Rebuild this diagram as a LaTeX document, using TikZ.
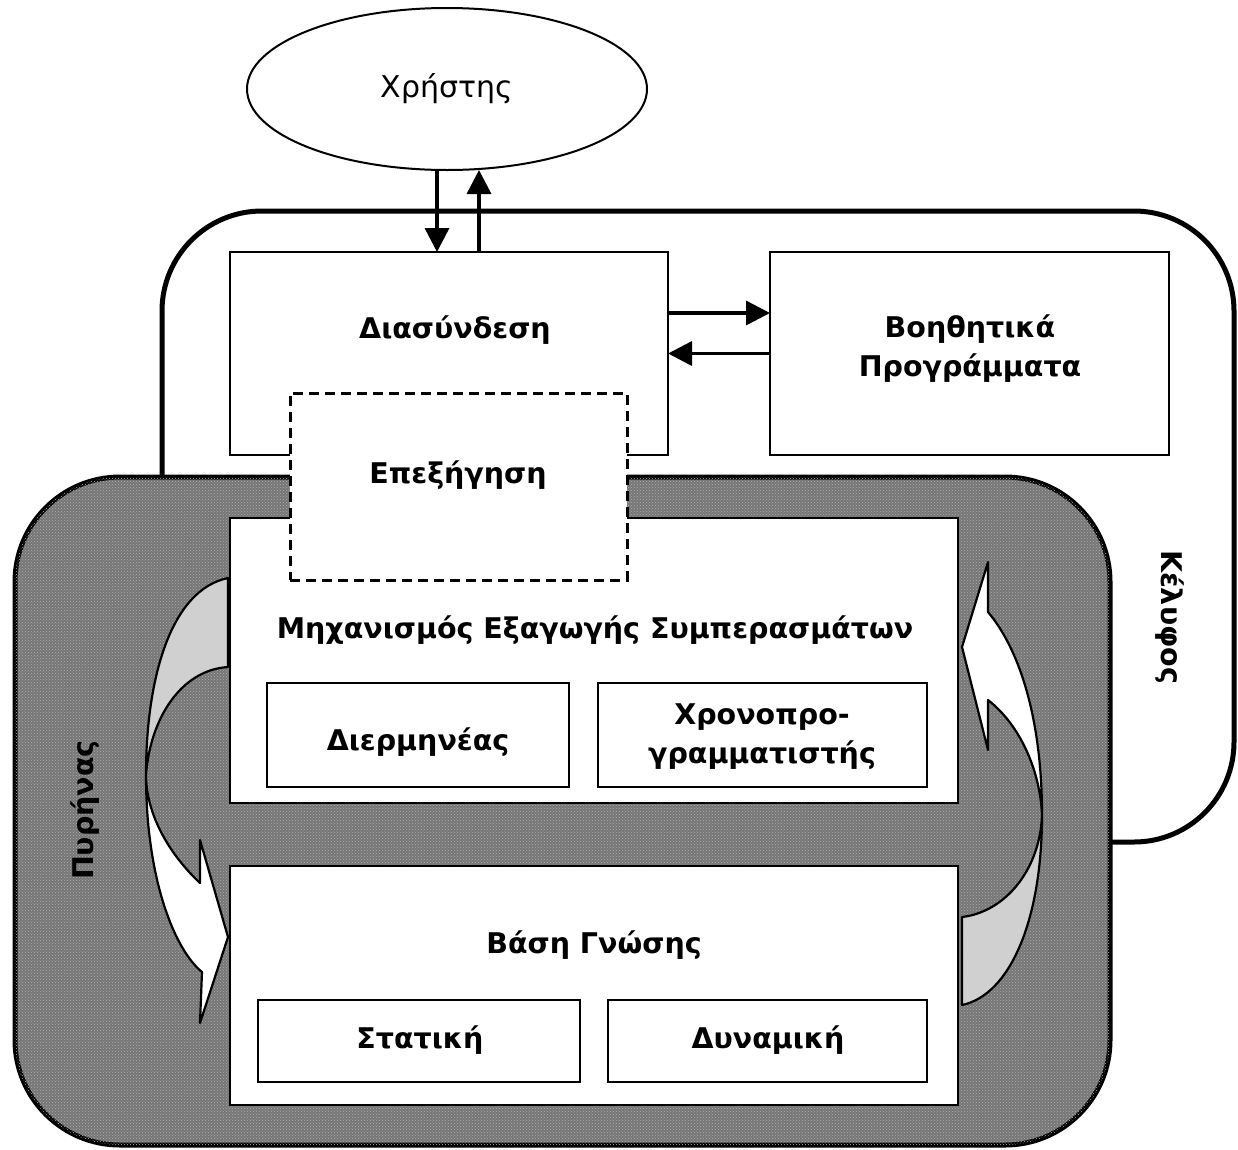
\documentclass[tikz,border=0pt]{standalone}
\usepackage{fontspec}
\setmainfont{DejaVu Sans}
\usetikzlibrary{patterns,arrows.meta,shapes.geometric}
\definecolor{coredark}{RGB}{118,118,118}
\definecolor{corelight}{RGB}{175,175,175}
\definecolor{backgray}{RGB}{208,208,208}
\begin{document}
\begin{tikzpicture}[x=1pt,y=-1pt,
  box/.style={draw, line width=2.5pt, fill=white, inner sep=0pt, outer sep=0pt},
  lbl/.style={font=\fontsize{28.5}{39}\selectfont\bfseries, align=center, inner sep=0pt},
  arr/.style={line width=3.5pt, -{Triangle[length=24pt,width=24pt]}},
  band/.style={line width=2.2pt, line join=round}]
\useasboundingbox (0,0) rectangle (1238,1149);
% shell
\node[draw, line width=5pt, rounded corners=100pt, fill=white, inner sep=0pt,
      minimum width=1072pt, minimum height=631pt] (shell) at (698,526.5) {};
% core
\node[draw, line width=5pt, rounded corners=105pt, inner sep=0pt,
      fill=coredark, postaction={pattern=crosshatch dots, pattern color=corelight},
      minimum width=1095pt, minimum height=668pt] (core) at (562.5,811) {};
% curved arrows (left)
\draw[band, fill=backgray] (228,578) .. controls (170,590) and (146,680) .. (146,775)
   .. controls (150,720) and (180,670) .. (228,667) -- cycle;
\draw[band, fill=white] (146,775) .. controls (146,880) and (175,950) .. (202,972)
   -- (200,1023) -- (228,937) -- (200,840) -- (200,883)
   .. controls (165,850) and (146,810) .. (146,775) -- cycle;
% curved arrows (right)
\draw[band, fill=backgray] (1042,815) .. controls (1042,920) and (1010,995) .. (962,1005)
   -- (962,917) .. controls (1005,912) and (1040,870) .. (1042,815) -- cycle;
\draw[band, fill=white] (1042,815) .. controls (1042,720) and (1020,650) .. (988,612)
   -- (988,562) -- (962,647) -- (988,750) -- (988,700)
   .. controls (1020,725) and (1040,770) .. (1042,815) -- cycle;
% boxes
\node[box, minimum width=438pt, minimum height=203pt] (dias) at (449,353.5) {};
\node[box, minimum width=399pt, minimum height=203pt] (aux) at (969.5,353.5) {};
\node[box, minimum width=728pt, minimum height=285pt] (mech) at (594,660.5) {};
\node[box, minimum width=302pt, minimum height=104pt] (interp) at (418,735) {};
\node[box, minimum width=329pt, minimum height=104pt] (sched) at (762.5,735) {};
\node[box, minimum width=728pt, minimum height=239pt] (kb) at (594,985.5) {};
\node[box, minimum width=322pt, minimum height=82pt] (stat) at (419,1041) {};
\node[box, minimum width=319pt, minimum height=82pt] (dyn) at (767.5,1041) {};
\node[box, dashed, dash pattern=on 10pt off 6pt, line width=3pt,
      minimum width=337pt, minimum height=187pt] (expl) at (458.5,486.5) {};
% labels
\node[lbl] (tdias) at (455,330) {Διασύνδεση};
\node[lbl] (taux) at (970,349) {Βοηθητικά\\Προγράμματα};
\node[lbl] (texpl) at (458,475) {Επεξήγηση};
\node[lbl] (tmech) at (595,630) {Μηχανισμός Εξαγωγής Συμπερασμάτων};
\node[lbl] (tinterp) at (418,742) {Διερμηνέας};
\node[lbl] (tsched) at (762,737) {Χρονοπρο-\\γραμματιστής};
\node[lbl] (tkb) at (594,945) {Βάση Γνώσης};
\node[lbl] (tstat) at (420,1040) {Στατική};
\node[lbl] (tdyn) at (768,1040) {Δυναμική};
\node[lbl, rotate=-90] (tshell) at (1170,617) {Κέλυφος};
\node[lbl, rotate=90] (tcore) at (85,810) {Πυρήνας};
% user
\node[draw, ellipse, line width=2pt, fill=white, inner sep=0pt,
      minimum width=400pt, minimum height=162pt,
      font=\fontsize{30}{34}\selectfont] (user) at (447,89) {Χρήστης};
% straight arrows
\draw[arr] ([xshift=-10pt]user.south) -- ([xshift=-10pt]user.south |- dias.north);
\draw[arr] ([xshift=32pt]user.south |- dias.north) -- ([xshift=32pt,yshift=1pt]user.south);
\draw[arr] ([yshift=40.5pt]dias.east) -- ([yshift=40.5pt]dias.east -| aux.west);
\draw[arr] (aux.west |- dias.east) -- (dias.east);
\end{tikzpicture}
\end{document}
